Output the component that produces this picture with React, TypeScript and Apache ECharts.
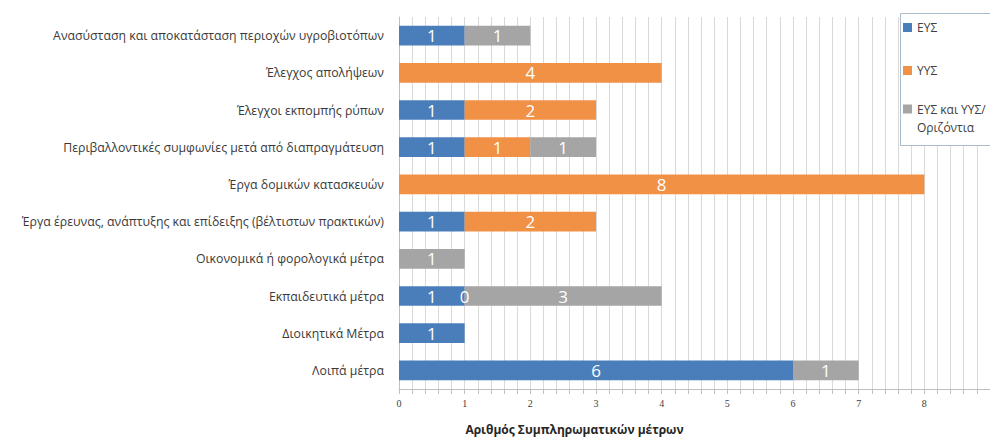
import React, { useEffect, useRef } from "react";
import * as echarts from "echarts";

const categories = [
  "Ανασύσταση και αποκατάσταση περιοχών υγροβιοτόπων",
  "Έλεγχος απολήψεων",
  "Έλεγχοι εκπομπής ρύπων",
  "Περιβαλλοντικές συμφωνίες μετά από διαπραγμάτευση",
  "Έργα δομικών κατασκευών",
  "Έργα έρευνας, ανάπτυξης και επίδειξης (βέλτιστων πρακτικών)",
  "Οικονομικά ή φορολογικά μέτρα",
  "Εκπαιδευτικά μέτρα",
  "Διοικητικά Μέτρα",
  "Λοιπά μέτρα",
];
const eysValues = [1, null, 1, 1, null, 1, null, 1, 1, 6];
const yysValues = [null, 4, 2, 1, 8, 2, null, 0, null, null];
const horizValues = [1, null, null, 1, null, null, 1, 3, null, 1];
const seriesNames = ["ΕΥΣ", "ΥΥΣ", "ΕΥΣ και ΥΥΣ/\nΟριζόντια"];
const seriesColors = ["#4a7ebb", "#f09146", "#a5a5a5"];
const axisName = "Αριθμός Συμπληρωματικών μέτρων";

const FONT = "'Open Sans', 'Noto Sans', sans-serif";
const iconMid = "path://M0,0h0.01v0.01h-0.01zM0,9h9v9h-9zM8.99,26.99h0.01v0.01h-0.01z";
const iconTop = "path://M0,0h9v9h-9zM8.99,26.99h0.01v0.01h-0.01z";

export default function App() {
  const ref = useRef<HTMLDivElement>(null);
  useEffect(() => {
    if (!ref.current) return;
    const chart = echarts.init(ref.current, undefined, { renderer: "svg" });
    const values = [eysValues, yysValues, horizValues];
    chart.setOption({
      animation: false,
      backgroundColor: "#ffffff",
      grid: { left: 399, top: 17, width: 594, height: 376, containLabel: false },
      legend: {
        orient: "vertical",
        left: 903,
        top: 14,
        padding: 0,
        itemWidth: 9,
        itemHeight: 27,
        itemGap: 16,
        selectedMode: false,
        z: 5,
        textStyle: { fontFamily: FONT, fontSize: 12, color: "#404040", lineHeight: 18 },
        data: [
          { name: seriesNames[0], icon: iconMid },
          { name: seriesNames[1], icon: iconMid },
          { name: seriesNames[2], icon: iconTop },
        ],
      },
      graphic: {
        elements: [
          {
            type: "rect",
            z: 3,
            shape: { x: 900.5, y: 13.5, width: 100, height: 132 },
            style: { fill: "#ffffff", stroke: "#a9bccf", lineWidth: 1 },
          },
        ],
      },
      xAxis: {
        type: "value",
        min: 0,
        max: 9,
        interval: 1,
        axisLine: { show: true, lineStyle: { color: "#bfbfbf" } },
        axisTick: { show: true, length: 5, lineStyle: { color: "#bfbfbf" } },
        minorTick: { show: true, splitNumber: 5, length: 5, lineStyle: { color: "#bfbfbf" } },
        splitLine: { show: true, lineStyle: { color: "#d9d9d9" } },
        minorSplitLine: { show: true, lineStyle: { color: "#d9d9d9" } },
        axisLabel: {
          fontFamily: "'Liberation Serif', serif",
          fontSize: 10,
          color: "#404040",
          margin: 9,
          showMaxLabel: false,
        },
        name: axisName,
        nameLocation: "middle",
        nameGap: 34,
        nameTextStyle: {
          fontFamily: FONT,
          fontSize: 12,
          fontWeight: "bold",
          color: "#262626",
          padding: [0, 240, 0, 0],
        },
      },
      yAxis: {
        type: "category",
        data: categories,
        inverse: true,
        axisLine: { show: true, lineStyle: { color: "#bfbfbf" } },
        axisTick: { show: false },
        splitLine: { show: false },
        axisLabel: { fontFamily: FONT, fontSize: 12.3, color: "#3a3a3a", margin: 15 },
      },
      series: seriesNames.map((name, i) => ({
        name,
        type: "bar",
        stack: "total",
        barCategoryGap: "47%",
        data: values[i],
        itemStyle: { color: seriesColors[i] },
        label: {
          show: true,
          position: "inside",
          color: "#ffffff",
          fontFamily: FONT,
          fontSize: 17,
        },
      })),
    });
    return () => chart.dispose();
  }, []);
  return (
    <div
      ref={ref}
      style={{ position: "fixed", left: 0, top: 0, width: 990, height: 440 }}
    />
  );
}
